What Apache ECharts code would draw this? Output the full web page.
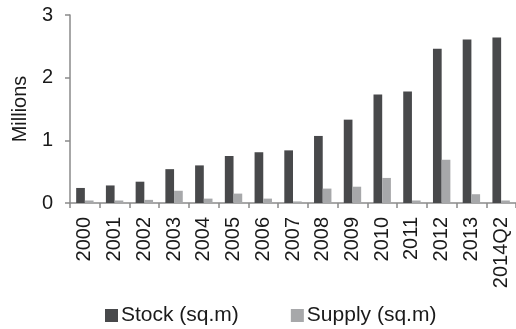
<!DOCTYPE html>
<html>
<head>
<meta charset="utf-8">
<style>
  html, body { margin: 0; padding: 0; background: #ffffff; }
  #chart { width: 516px; height: 329px; }
</style>
<script src="https://cdn.jsdelivr.net/npm/echarts@6/dist/echarts.min.js"></script>
</head>
<body>
<div id="chart"></div>
<script>
// Office floor space, millions of square metres
const categories = ['2000', '2001', '2002', '2003', '2004', '2005', '2006', '2007',
                    '2008', '2009', '2010', '2011', '2012', '2013', '2014Q2'];
const stock  = [0.24, 0.28, 0.34, 0.54, 0.60, 0.75, 0.81, 0.84, 1.07, 1.33, 1.73, 1.78, 2.46, 2.61, 2.64];
const supply = [0.04, 0.04, 0.05, 0.195, 0.07, 0.15, 0.07, 0.025, 0.23, 0.26, 0.40, 0.04, 0.69, 0.14, 0.04];
const yTicks = [0, 1, 2, 3];

const FONT = '"Liberation Sans", Arial, sans-serif';
const AXIS_COLOR = '#8a8a8a';
const TEXT_COLOR = '#1a1a1a';

const chart = echarts.init(document.getElementById('chart'), null, { renderer: 'canvas' });
chart.setOption({
  animation: false,
  backgroundColor: '#ffffff',
  textStyle: { fontFamily: FONT },
  grid: { left: 70, right: -2, top: 15, bottom: 126, containLabel: false },
  legend: {
    bottom: -2,
    left: 100,
    itemWidth: 13,
    itemHeight: 13,
    itemGap: 52,
    icon: 'rect',
    textStyle: { fontSize: 21, color: TEXT_COLOR, fontFamily: FONT, padding: [0, 0, 0, -2] },
    data: ['Stock (sq.m)', 'Supply (sq.m)']
  },
  xAxis: {
    type: 'category',
    data: categories,
    axisLine: { lineStyle: { color: AXIS_COLOR, width: 1.5 } },
    axisTick: { show: true, alignWithLabel: false, length: 5, lineStyle: { color: AXIS_COLOR, width: 1.5 } },
    axisLabel: { rotate: 90, margin: 14, fontSize: 20, color: TEXT_COLOR, fontFamily: FONT, interval: 0 }
  },
  yAxis: {
    type: 'value',
    min: yTicks[0],
    max: yTicks[yTicks.length - 1],
    interval: 1,
    name: 'Millions',
    nameLocation: 'middle',
    nameGap: 40,
    nameTextStyle: { fontSize: 20, color: TEXT_COLOR, fontFamily: FONT },
    axisLine: { show: true, lineStyle: { color: AXIS_COLOR, width: 1.5 } },
    axisTick: { show: true, inside: false, length: 5, lineStyle: { color: AXIS_COLOR, width: 1.5 } },
    axisLabel: { margin: 17, fontSize: 20, color: TEXT_COLOR, fontFamily: FONT },
    splitLine: { show: false }
  },
  series: [
    {
      name: 'Stock (sq.m)',
      type: 'bar',
      data: stock,
      barWidth: 8.7,
      barGap: '0%',
      itemStyle: { color: '#48494b' }
    },
    {
      name: 'Supply (sq.m)',
      type: 'bar',
      data: supply,
      barWidth: 8.7,
      itemStyle: { color: '#a7a8aa' }
    }
  ]
});
</script>
</body>
</html>
